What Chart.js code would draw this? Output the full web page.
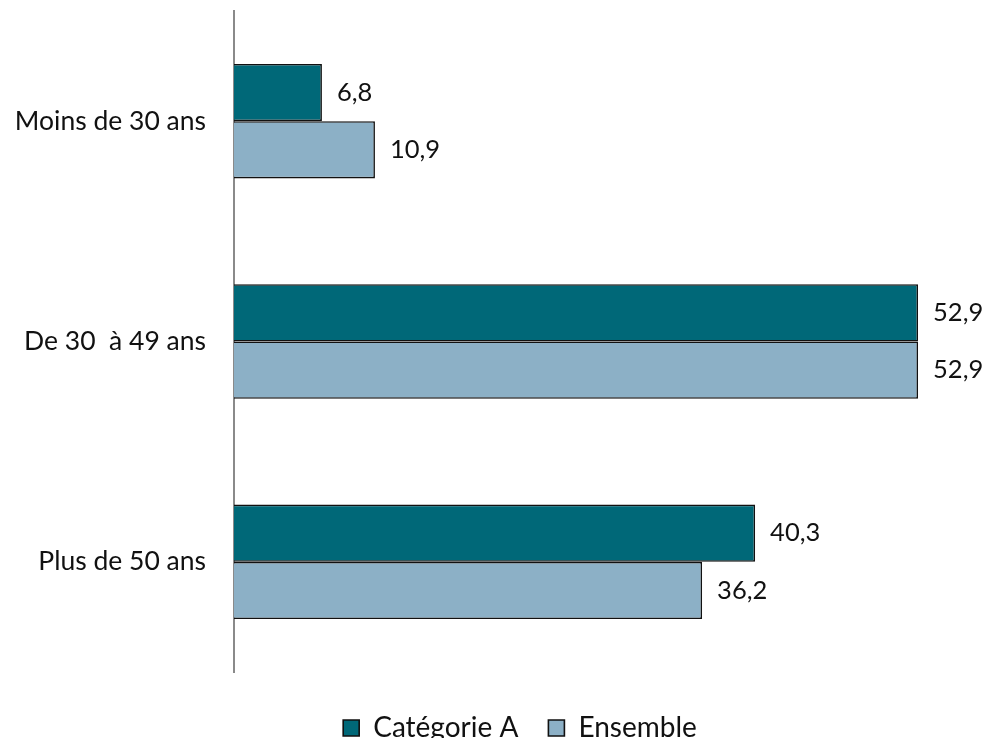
<!DOCTYPE html>
<html><head><meta charset="utf-8">
<script src="https://cdn.jsdelivr.net/npm/chart.js@4/dist/chart.umd.min.js"></script>
<style>html,body{margin:0;padding:0;background:#fff}#w{width:988px;height:738px}</style>
</head><body><div id="w"><canvas id="c"></canvas></div>
<script>
const categories = ["Moins de 30 ans", "De 30  à 49 ans", "Plus de 50 ans"];
const seriesNames = ["Catégorie A", "Ensemble"];
const categorieA = [6.8, 52.9, 40.3];
const ensemble = [10.9, 52.9, 36.2];

const FONT = "Lato, 'Open Sans', sans-serif";
const labelPlugin = {
  id: 'vals',
  afterLayout(chart) {
    if (chart.legend) { chart.legend.left += 28; chart.legend.right += 28; }
  },
  afterDatasetsDraw(chart) {
    const ctx = chart.ctx;
    ctx.save();
    ctx.font = "25.5px " + FONT;
    ctx.fillStyle = "#111";
    ctx.textBaseline = "middle";
    ctx.textAlign = "left";
    chart.data.datasets.forEach((ds, i) => {
      chart.getDatasetMeta(i).data.forEach((el, j) => {
        ctx.fillText(ds.data[j].toFixed(1).replace('.', ','), el.x + 15, el.y);
      });
    });
    ctx.restore();
  }
};

new Chart(document.getElementById('c'), {
  type: 'bar',
  data: {
    labels: categories,
    datasets: [
      {label: seriesNames[0], data: categorieA, backgroundColor: '#006878', borderColor: '#111', borderWidth: 1.6, categoryPercentage: 0.52, barPercentage: 1},
      {label: seriesNames[1], data: ensemble, backgroundColor: '#8cb0c6', borderColor: '#111', borderWidth: 1.6, categoryPercentage: 0.52, barPercentage: 1}
    ]
  },
  options: {
    indexAxis: 'y',
    responsive: true,
    maintainAspectRatio: false,
    animation: false,
    layout: {padding: {top: 11, right: 4, left: 0, bottom: -14}},
    scales: {
      x: {
        display: true, min: 0, max: 58,
        grid: {display: false, drawTicks: false},
        border: {display: false},
        ticks: {display: false},
        afterFit: s => { s.height = 12; s.paddingLeft = 0; s.paddingRight = 0; }
      },
      y: {
        grid: {display: false, drawTicks: false},
        border: {display: true, color: '#8a8a8a', width: 2},
        ticks: {font: {family: FONT, size: 26.5}, color: '#111', padding: 28},
        afterFit: s => { s.width = 234; s.paddingTop = 0; s.paddingBottom = 0; }
      }
    },
    plugins: {
      legend: {
        position: 'bottom',
        labels: {font: {family: FONT, size: 28}, color: '#111', boxWidth: 16, boxHeight: 16, padding: 30}
      },
      tooltip: {enabled: false}
    }
  },
  plugins: [labelPlugin]
});
</script></body></html>
